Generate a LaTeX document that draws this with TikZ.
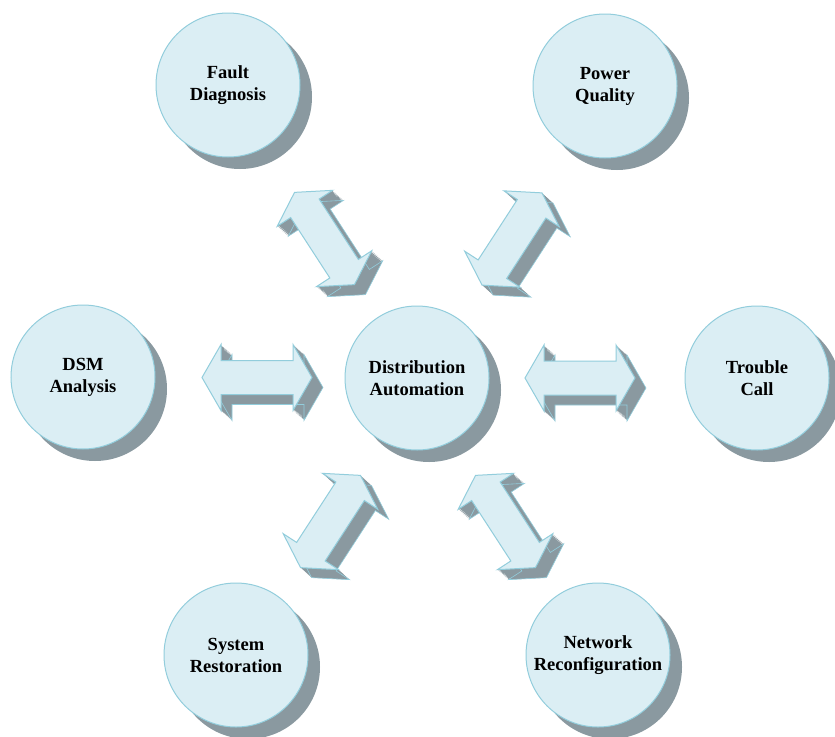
\documentclass[tikz,border=0pt]{standalone}
\usepackage{fontspec}
\setmainfont{Liberation Serif}
\usetikzlibrary{calc}
\definecolor{cfill}{RGB}{219,238,244}
\definecolor{cline}{RGB}{146,205,220}
\definecolor{cshade}{RGB}{138,153,160}
\newcommand\DArrow[3]{%
  \foreach \t in {12,11,...,1}{%
    \fill[cshade, shift={($(#1)+(\t*11/12,\t*10/12)$)}, rotate=#2] (-55,0) -- (-36,-33) -- (-36,-17) -- (36,-17) -- (36,-33) -- (55,0) -- (36,33) -- (36,17) -- (-36,17) -- (-36,33) -- cycle;
  }%
  \draw[cline, line width=0.6pt, shift={($(#1)+(11,10)$)}, rotate=#2] (-55,0) -- (-36,-33) -- (-36,-17) -- (36,-17) -- (36,-33) -- (55,0) -- (36,33) -- (36,17) -- (-36,17) -- (-36,33) -- cycle;
  \filldraw[fill=cfill, draw=cline, line width=1pt, shift={(#1)}, rotate=#2] (-55,0) -- (-36,-33) -- (-36,-17) -- (36,-17) -- (36,-33) -- (55,0) -- (36,33) -- (36,17) -- (-36,17) -- (-36,33) -- cycle;
}
\begin{document}
\begin{tikzpicture}[x=1pt,y=-1pt,
  bubble/.style={circle, fill=cfill, draw=cline, line width=1pt, minimum size=144pt, inner sep=0pt, align=center, font=\fontsize{18.5}{22}\selectfont\bfseries}]
\useasboundingbox (0,0) rectangle (835,736);
\fill[white] (0,0) rectangle (835,736);
% shadows
\foreach \px/\py in {228/85,605/86,83/377,417/378,757/378,236/655,598/655}{
  \fill[cshade] (\px+12,\py+12) circle (72);
}
\node[bubble] (fd) at (228,85) {Fault\\Diagnosis};
\node[bubble] (pq) at (605,86) {Power\\Quality};
\node[bubble] (dsm) at (83,377) {DSM\\Analysis};
\node[bubble] (da) at (417,378) {Distribution\\Automation};
\node[bubble] (tc) at (757,378) {Trouble\\Call};
\node[bubble] (sr) at (236,655) {System\\Restoration};
\node[bubble] (nr) at (598,655) {Network\\Reconfiguration};
% arrow anchor points
\coordinate (a1) at ($(fd)!0.5!(da)+(2,7)$);
\coordinate (a2) at ($(pq)!0.5!(da)+(1,7)$);
\coordinate (a3) at ($(dsm)!0.5!(da)+(7,0)$);
\coordinate (a4) at ($(tc)!0.5!(da)+(-7,0)$);
\coordinate (a5) at ($(sr)!0.5!(da)+(4,5)$);
\coordinate (a6) at ($(nr)!0.5!(da)+(-2,5)$);
\DArrow{a1}{123}{}
\DArrow{a2}{57}{}
\DArrow{a3}{0}{}
\DArrow{a4}{0}{}
\DArrow{a5}{57}{}
\DArrow{a6}{123}{}
\end{tikzpicture}
\end{document}
